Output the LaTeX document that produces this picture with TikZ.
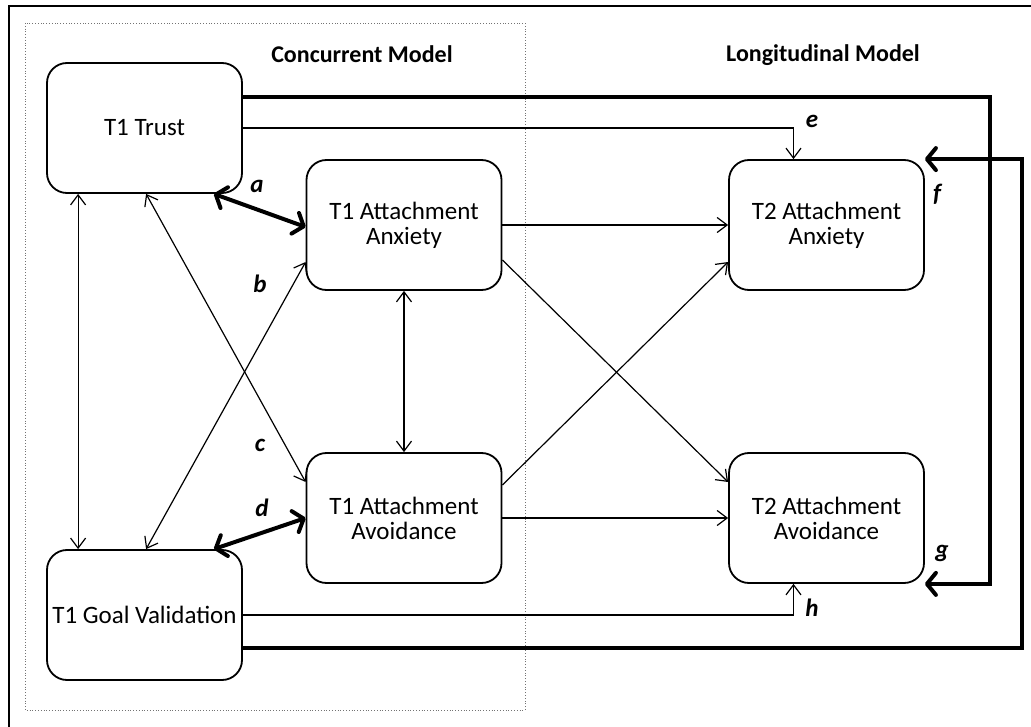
\documentclass[tikz,border=0pt]{standalone}
\usepackage{fontspec}
\setmainfont{Carlito}
\usetikzlibrary{arrows.meta,calc}
\begin{document}
\begin{tikzpicture}[x=1pt,y=-1pt,
  box/.style={draw,line width=1.8pt,rounded corners=20pt,minimum width=195pt,minimum height=130pt,
    align=center,inner sep=0pt,font=\fontsize{25}{25}\selectfont},
  thin/.style={line width=1.2pt,{Straight Barb[length=10pt,width=15pt]}-{Straight Barb[length=10pt,width=15pt]}},
  thinr/.style={line width=1.2pt,-{Straight Barb[length=10pt,width=15pt]}},
  thick/.style={line width=4pt,{Straight Barb[length=9pt,width=22pt,round]}-{Straight Barb[length=9pt,width=22pt,round]}},
  thickr/.style={line width=4pt,-{Straight Barb[length=9pt,width=22pt,round]}},
  lab/.style={font=\fontsize{25}{25}\selectfont\bfseries\itshape},
  title/.style={anchor=base,font=\fontsize{24}{24}\selectfont\bfseries}]
\useasboundingbox (0,0) rectangle (1031,727);
\draw[line width=2.5pt] (9,727) -- (9,6) -- (1031,6);
\draw[dotted,line width=0.8pt,black!55] (25,23) rectangle (525,710);
\node[title] (tc) at (362,63) {Concurrent Model};
\node[title] (tl) at (823,62) {Longitudinal Model};
\node[box] (trust) at (144.5,128) {T1 Trust};
\node[box] (anx) at (404,225) {T1 Attachment\\Anxiety};
\node[box] (goal) at (144.5,615) {T1 Goal Validation};
\node[box] (avoid) at (404,518) {T1 Attachment\\Avoidance};
\node[box] (tanx) at (826.5,225) {T2 Attachment\\Anxiety};
\node[box] (tavoid) at (826.5,518) {T2 Attachment\\Avoidance};
\coordinate (xg) at (990,0);
\coordinate (xf) at (1022,0);
% thin connectors
\draw[thin] ([xshift=32pt]trust.south west) -- ([xshift=32pt]goal.north west);
\draw[thin] ([xshift=100pt]trust.south west) -- ([yshift=36pt]avoid.west);
\draw[thin] ([xshift=100pt]goal.north west) -- ([yshift=-37pt]anx.west);
\draw[thin] (anx.south) -- (avoid.north);
\draw[thinr] (anx.east) -- (tanx.west);
\draw[thinr] ([yshift=-35pt]anx.east) -- ([yshift=36pt]tavoid.west);
\draw[thinr] ([yshift=33pt]avoid.east) -- ([yshift=-37pt]tanx.west);
\draw[thinr] (avoid.east) -- (tavoid.west);
\draw[thinr] (trust.east) -| ([xshift=-33pt]tanx.north);
\draw[thinr] (goal.east) -| ([xshift=-33pt]tavoid.south);
% thick connectors
\draw[thick] ([xshift=-29pt]trust.south east) -- ([yshift=-2pt]anx.west);
\draw[thick] ([xshift=-29pt]goal.north east) -- (avoid.west);
\draw[thickr,line join=miter] ([yshift=31pt]trust.east) -| (xg |- tavoid.south east) -- (tavoid.south east);
\draw[thickr,line join=miter] ([yshift=-33pt]goal.east) -| (xf |- tanx.north east) -- (tanx.north east);
% labels
\node[lab] (la) at (257,186) {a};
\node[lab] (lb) at (260,284) {b};
\node[lab] (lc) at (260,445) {c};
\node[lab] (ld) at (262,508) {d};
\node[lab] (le) at (812,121) {e};
\node[lab] (lf) at (937,194) {f};
\node[lab] (lg) at (942,553) {g};
\node[lab] (lh) at (812,608) {h};
\end{tikzpicture}
\end{document}
